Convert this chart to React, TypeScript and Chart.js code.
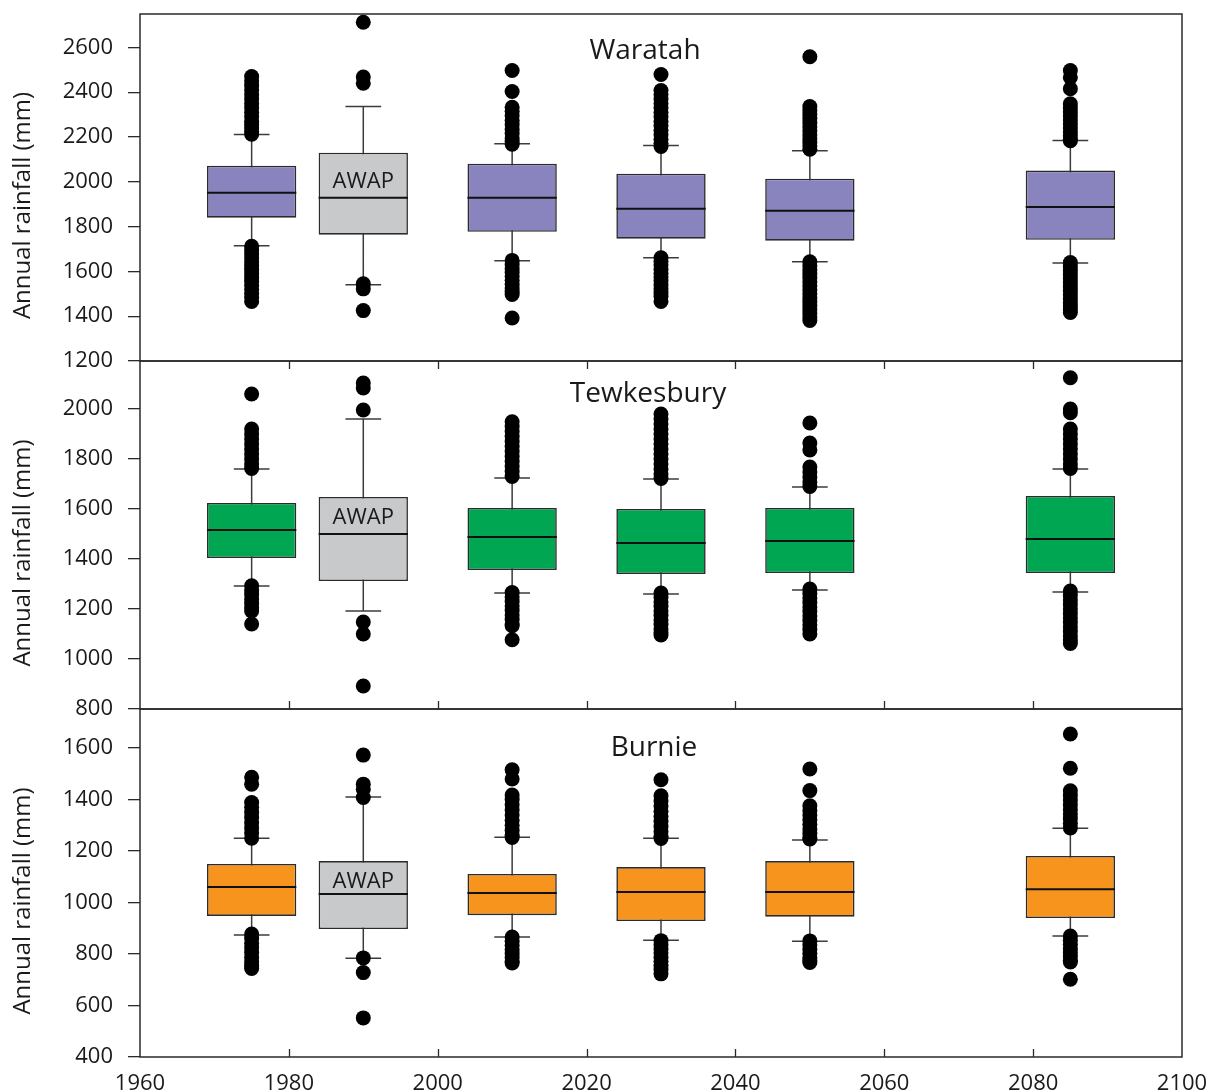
import React, { useEffect, useRef } from 'react';
import { Chart, registerables } from 'chart.js';

Chart.register(...registerables);

const FONT_FAMILY = "'Open Sans', 'Noto Sans', 'DejaVu Sans', sans-serif";

// ---------- shared categories / labels ----------
const boxYears = [1975, 1990, 2010, 2030, 2050, 2085];
const boxSources = ['Model', 'AWAP', 'Model', 'Model', 'Model', 'Model'];
const xTickValues = [1960, 1980, 2000, 2020, 2040, 2060, 2080, 2100];
const yAxisTitle = 'Annual rainfall (mm)';
const panelTitles = ['Waratah', 'Tewkesbury', 'Burnie'];

// ---------- Waratah ----------
const waratahTicks = [1200, 1400, 1600, 1800, 2000, 2200, 2400, 2600];
const waratahQ1 = [1840, 1764, 1777, 1746, 1737, 1741];
const waratahMedian = [1951, 1929, 1929, 1880, 1871, 1888];
const waratahQ3 = [2072, 2130, 2081, 2036, 2014, 2050];
const waratahWhiskerLow = [1714, 1540, 1647, 1661, 1643, 1638];
const waratahWhiskerHigh = [2211, 2336, 2170, 2162, 2139, 2184];
const waratahOutliers = [
  [2470, 2450, 2430, 2410, 2390, 2370, 2350, 2330, 2310, 2290, 2270, 2255, 2240, 2225, 2212,
    1712, 1695, 1678, 1660, 1642, 1625, 1608, 1590, 1572, 1555, 1538, 1520, 1502, 1485, 1466],
  [2712, 2468, 2440, 1545, 1522, 1425],
  [2497, 2403, 2333, 2315, 2295, 2275, 2255, 2235, 2215, 2195, 2180, 2168,
    1649, 1630, 1612, 1595, 1578, 1560, 1543, 1526, 1510, 1497, 1392],
  [2479, 2407, 2390, 2370, 2350, 2330, 2310, 2290, 2270, 2250, 2230, 2210, 2190, 2172, 2158,
    1661, 1645, 1628, 1610, 1592, 1575, 1558, 1540, 1522, 1505, 1488, 1466],
  [2558, 2336, 2318, 2300, 2282, 2264, 2246, 2228, 2210, 2192, 2175, 2160, 2145,
    1643, 1625, 1607, 1590, 1572, 1554, 1536, 1518, 1500, 1482, 1465, 1447, 1430, 1412, 1396, 1381],
  [2497, 2466, 2415, 2348, 2330, 2312, 2294, 2276, 2258, 2240, 2222, 2205, 2190, 2183,
    1640, 1622, 1604, 1586, 1568, 1550, 1532, 1514, 1496, 1478, 1460, 1445, 1430, 1417],
];

// ---------- Tewkesbury ----------
const tewkesburyTicks = [800, 1000, 1200, 1400, 1600, 1800, 2000];
const tewkesburyQ1 = [1404, 1312, 1356, 1340, 1344, 1344];
const tewkesburyMedian = [1516, 1500, 1488, 1464, 1472, 1480];
const tewkesburyQ3 = [1624, 1648, 1604, 1600, 1604, 1652];
const tewkesburyWhiskerLow = [1292, 1192, 1264, 1260, 1276, 1268];
const tewkesburyWhiskerHigh = [1760, 1960, 1724, 1720, 1688, 1760];
const tewkesburyOutliers = [
  [2060, 1920, 1900, 1880, 1860, 1840, 1820, 1800, 1780, 1762,
    1293, 1275, 1258, 1240, 1222, 1205, 1192, 1140],
  [2104, 2084, 1996, 1148, 1100, 892],
  [1949, 1930, 1910, 1890, 1870, 1850, 1830, 1810, 1790, 1770, 1750, 1730,
    1266, 1248, 1230, 1212, 1194, 1176, 1158, 1140, 1133, 1077],
  [1980, 1960, 1940, 1920, 1900, 1880, 1860, 1840, 1820, 1800, 1780, 1760, 1740, 1722,
    1264, 1246, 1228, 1210, 1192, 1174, 1156, 1138, 1120, 1105, 1096],
  [1944, 1864, 1836, 1768, 1748, 1728, 1708, 1690,
    1280, 1262, 1244, 1226, 1208, 1190, 1172, 1154, 1136, 1118, 1100],
  [2125, 2000, 1985, 1920, 1900, 1880, 1860, 1840, 1820, 1800, 1780, 1762,
    1272, 1254, 1236, 1218, 1200, 1182, 1164, 1146, 1128, 1110, 1092, 1076, 1062],
];

// ---------- Burnie ----------
const burnieTicks = [400, 600, 800, 1000, 1200, 1400, 1600];
const burnieQ1 = [948, 897, 951, 928, 945, 940];
const burnieMedian = [1060, 1033, 1037, 1041, 1041, 1052];
const burnieQ3 = [1150, 1161, 1111, 1138, 1161, 1181];
const burnieWhiskerLow = [874, 784, 866, 854, 850, 870];
const burnieWhiskerHigh = [1250, 1410, 1254, 1250, 1243, 1289];
const burnieOutliers = [
  [1487, 1460, 1389, 1370, 1350, 1330, 1310, 1290, 1270, 1250,
    878, 860, 842, 824, 806, 788, 770, 755, 744],
  [1573, 1460, 1440, 1408, 785, 728, 552],
  [1516, 1480, 1418, 1400, 1380, 1360, 1340, 1320, 1300, 1280, 1262, 1253,
    866, 850, 834, 818, 802, 786, 772, 765],
  [1477, 1415, 1395, 1375, 1355, 1335, 1315, 1295, 1275, 1258, 1249,
    852, 836, 820, 804, 788, 772, 756, 740, 723],
  [1519, 1435, 1376, 1358, 1340, 1322, 1304, 1286, 1268, 1252, 1247,
    851, 835, 819, 803, 787, 775, 767],
  [1655, 1522, 1434, 1416, 1398, 1380, 1362, 1344, 1326, 1308, 1290,
    870, 854, 838, 822, 806, 790, 776, 769, 702],
];

// ---------- styles ----------
const AWAP_GREY = '#C8C9CB';
const TEXT_COLOR = '#1a1a1a';
const AXIS_COLOR = '#2a2a2a';
const BOX_HALF = 6; // years (half box width)
const CAP_HALF = 2.4; // years (half whisker cap width)

type PanelSpec = {
  title: string;
  color: string;
  ticks: number[];
  q1: number[];
  median: number[];
  q3: number[];
  wLo: number[];
  wHi: number[];
  outliers: number[][];
  yMin: number;
  yMax: number;
  canvasTop: number;
  canvasHeight: number;
  padTop: number;
  padBottom: number;
  showXLabels: boolean;
  ticksTop: boolean;
  ticksBottom: boolean;
  titleDx: number;
  titleBaseline: number;
  awapBaseline: number;
};

const PANELS: PanelSpec[] = [
  {
    title: panelTitles[0], color: '#8984BD', ticks: waratahTicks,
    q1: waratahQ1, median: waratahMedian, q3: waratahQ3, wLo: waratahWhiskerLow, wHi: waratahWhiskerHigh,
    outliers: waratahOutliers, yMin: 1200, yMax: 2749,
    canvasTop: 0, canvasHeight: 380, padTop: 14, padBottom: 19,
    showXLabels: false, ticksTop: false, ticksBottom: false,
    titleDx: -16, titleBaseline: 45, awapBaseline: 35,
  },
  {
    title: panelTitles[1], color: '#00A651', ticks: tewkesburyTicks,
    q1: tewkesburyQ1, median: tewkesburyMedian, q3: tewkesburyQ3, wLo: tewkesburyWhiskerLow, wHi: tewkesburyWhiskerHigh,
    outliers: tewkesburyOutliers, yMin: 800, yMax: 2192,
    canvasTop: 350, canvasHeight: 380, padTop: 11, padBottom: 21,
    showXLabels: false, ticksTop: true, ticksBottom: true,
    titleDx: -13, titleBaseline: 41, awapBaseline: 27,
  },
  {
    title: panelTitles[2], color: '#F7941E', ticks: burnieTicks,
    q1: burnieQ1, median: burnieMedian, q3: burnieQ3, wLo: burnieWhiskerLow, wHi: burnieWhiskerHigh,
    outliers: burnieOutliers, yMin: 400, yMax: 1752,
    canvasTop: 698, canvasHeight: 393, padTop: 11, padBottom: 0,
    showXLabels: true, ticksTop: false, ticksBottom: true,
    titleDx: -7, titleBaseline: 47, awapBaseline: 27,
  },
];

function decorPlugin(spec: PanelSpec) {
  return {
    id: 'panelDecor',
    afterDraw(chart: any) {
      const { ctx, chartArea: a, scales } = chart;
      const xs = scales.x;
      const ys = scales.y;
      ctx.save();
      // frame
      ctx.strokeStyle = AXIS_COLOR;
      ctx.lineWidth = 1.5;
      ctx.strokeRect(a.left, a.top, a.right - a.left, a.bottom - a.top);
      // inward x ticks
      ctx.lineWidth = 1.3;
      ctx.beginPath();
      for (const v of xTickValues) {
        if (v <= xs.min || v >= xs.max) continue;
        const px = Math.round(xs.getPixelForValue(v)) + 0.5;
        if (spec.ticksTop) { ctx.moveTo(px, a.top); ctx.lineTo(px, a.top + 8); }
        if (spec.ticksBottom) { ctx.moveTo(px, a.bottom); ctx.lineTo(px, a.bottom - 8); }
      }
      ctx.stroke();
      // panel title
      ctx.fillStyle = TEXT_COLOR;
      ctx.textAlign = 'center';
      ctx.textBaseline = 'alphabetic';
      ctx.font = `28px ${FONT_FAMILY}`;
      ctx.fillText(spec.title, (a.left + a.right) / 2 + spec.titleDx, a.top + spec.titleBaseline);
      // AWAP label
      ctx.font = `22px ${FONT_FAMILY}`;
      boxSources.forEach((s, i) => {
        if (s === 'AWAP') {
          ctx.fillText('AWAP', xs.getPixelForValue(boxYears[i]), ys.getPixelForValue(spec.q3[i]) + spec.awapBaseline);
        }
      });
      // y-axis title
      ctx.translate(23, (a.top + a.bottom) / 2 + 18);
      ctx.rotate(-Math.PI / 2);
      ctx.font = `24px ${FONT_FAMILY}`;
      ctx.textBaseline = 'middle';
      ctx.fillText(yAxisTitle, 0, 0);
      ctx.restore();
    },
  };
}

function buildDatasets(spec: PanelSpec) {
  const boxData = boxYears.map((x, i) => ({ x, y: [spec.q1[i], spec.q3[i]] }));
  const boxColors = boxSources.map((s) => (s === 'AWAP' ? AWAP_GREY : spec.color));
  const medianData: any[] = [];
  const whiskerData: any[] = [];
  const outlierData: any[] = [];
  boxYears.forEach((x, i) => {
    medianData.push({ x: x - BOX_HALF, y: spec.median[i] }, { x: x + BOX_HALF, y: spec.median[i] }, { x, y: null });
    whiskerData.push(
      { x, y: spec.wLo[i] }, { x, y: spec.wHi[i] }, { x, y: null },
      { x: x - CAP_HALF, y: spec.wHi[i] }, { x: x + CAP_HALF, y: spec.wHi[i] }, { x, y: null },
      { x: x - CAP_HALF, y: spec.wLo[i] }, { x: x + CAP_HALF, y: spec.wLo[i] }, { x, y: null },
    );
    spec.outliers[i].forEach((v) => outlierData.push({ x, y: v }));
  });
  return [
    {
      type: 'scatter', label: 'outliers', data: outlierData, order: 0,
      pointRadius: 7.5, pointBackgroundColor: '#000', pointBorderWidth: 0, pointHoverRadius: 7.5,
    },
    {
      type: 'line', label: 'median', data: medianData, order: 1, spanGaps: false,
      borderColor: '#111', borderWidth: 2, pointRadius: 0, tension: 0, fill: false,
    },
    {
      type: 'bar', label: 'box', data: boxData, order: 2,
      backgroundColor: boxColors, borderColor: '#2b2b2b', borderWidth: 1.6, borderSkipped: false,
      categoryPercentage: 1, barPercentage: 0.8,
    },
    {
      type: 'line', label: 'whiskers', data: whiskerData, order: 3, spanGaps: false,
      borderColor: '#3c3c3c', borderWidth: 1.5, pointRadius: 0, tension: 0, fill: false,
    },
  ];
}

function Panel({ spec }: { spec: PanelSpec }) {
  const ref = useRef<HTMLCanvasElement>(null);
  useEffect(() => {
    const chart = new Chart(ref.current as HTMLCanvasElement, {
      type: 'scatter',
      data: { datasets: buildDatasets(spec) as any },
      options: {
        animation: false,
        responsive: false,
        events: [],
        layout: { padding: { top: spec.padTop, bottom: spec.padBottom, left: 0, right: 26 } },
        plugins: { legend: { display: false }, tooltip: { enabled: false }, title: { display: false } },
        scales: {
          x: {
            type: 'linear', min: 1960, max: 2100, offset: false,
            display: spec.showXLabels,
            afterBuildTicks: (s: any) => { s.ticks = xTickValues.map((v) => ({ value: v })); },
            afterFit: (s: any) => {
              s.height = spec.showXLabels ? 34 : 0;
              s.paddingLeft = 0; s.paddingRight = 0; s.paddingTop = 0; s.paddingBottom = 0;
            },
            ticks: {
              autoSkip: false, maxRotation: 0, padding: 14,
              color: TEXT_COLOR, font: { family: FONT_FAMILY, size: 22 },
              callback: (v: any) => String(v),
            },
            grid: { display: false, drawTicks: false },
            border: { display: false },
          },
          y: {
            type: 'linear', min: spec.yMin, max: spec.yMax, beginAtZero: false,
            afterBuildTicks: (s: any) => { s.ticks = spec.ticks.map((v) => ({ value: v })); },
            afterFit: (s: any) => {
              s.width = 140;
              s.paddingLeft = 0; s.paddingRight = 0; s.paddingTop = 0; s.paddingBottom = 0;
            },
            ticks: {
              padding: 15,
              color: TEXT_COLOR, font: { family: FONT_FAMILY, size: 22 },
              callback: (v: any) => String(v),
            },
            grid: { display: true, drawOnChartArea: false, drawTicks: true, tickLength: 12, color: AXIS_COLOR, lineWidth: 1.3 },
            border: { display: false },
          },
        },
      } as any,
      plugins: [decorPlugin(spec)],
    });
    return () => chart.destroy();
  }, [spec]);
  return (
    <canvas
      ref={ref}
      width={1208}
      height={spec.canvasHeight}
      style={{ position: 'absolute', left: 0, top: spec.canvasTop, width: 1208, height: spec.canvasHeight }}
    />
  );
}

export default function App() {
  return (
    <div style={{ position: 'absolute', left: 0, top: 0, width: 1208, height: 1091, background: '#fff', overflow: 'hidden' }}>
      {PANELS.map((p, i) => (
        <Panel key={i} spec={p} />
      ))}
    </div>
  );
}
